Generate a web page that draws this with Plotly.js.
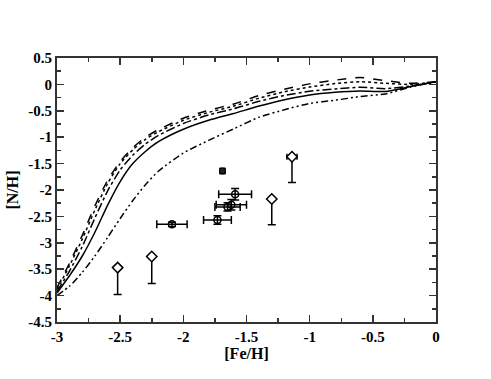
<!DOCTYPE html>
<html>
<head>
<meta charset="utf-8">
<script src="https://cdn.plot.ly/plotly-3.0.1.min.js"></script>
<style>
  html, body { margin: 0; padding: 0; background: #fff; }
  #chart { width: 491px; height: 379px; }
</style>
</head>
<body>
<div id="chart"></div>
<script>
// model curves, all sampled on the same [Fe/H] grid
const feGrid = [-3, -2.9, -2.8, -2.7, -2.6, -2.5, -2.4, -2.3, -2.2, -2.0, -1.8, -1.6, -1.4, -1.2, -1.0, -0.8, -0.6, -0.4, -0.2, 0];
const nhDashed = [-3.85, -3.38, -2.86, -2.30, -1.82, -1.46, -1.20, -1.00, -0.86, -0.64, -0.49, -0.37, -0.21, -0.09, 0.01, 0.08, 0.13, 0.07, 0.02, 0.05];
const nhDotted = [-3.88, -3.43, -2.93, -2.38, -1.88, -1.50, -1.24, -1.04, -0.90, -0.68, -0.53, -0.41, -0.26, -0.14, -0.05, 0.015, 0.05, 0.02, 0.0, 0.05];
const nhDashDot = [-3.92, -3.53, -3.07, -2.53, -2.02, -1.62, -1.34, -1.13, -0.97, -0.74, -0.58, -0.46, -0.32, -0.21, -0.13, -0.085, -0.055, -0.08, -0.03, 0.05];
const nhSolid = [-3.95, -3.62, -3.25, -2.80, -2.29, -1.84, -1.50, -1.27, -1.09, -0.85, -0.68, -0.55, -0.41, -0.29, -0.20, -0.15, -0.125, -0.135, -0.04, 0.05];
const nhDashDotDot = [-4.0, -3.82, -3.56, -3.25, -2.90, -2.54, -2.20, -1.90, -1.65, -1.30, -1.06, -0.84, -0.62, -0.48, -0.36, -0.30, -0.23, -0.18, -0.05, 0.05];

// upper limits style points (diamonds, lower error only)
const diaFe = [-2.52, -2.25, -1.30, -1.14];
const diaN = [-3.47, -3.26, -2.17, -1.37];
const diaErrDown = [0.51, 0.51, 0.49, 0.49];
const diaErrFe = [0, 0, 0, 0.04];

// measured points (circles with error bars)
const cirFe = [-1.59, -1.62, -1.65, -1.73, -2.09];
const cirN = [-2.08, -2.28, -2.32, -2.57, -2.65];
const cirErrFe = [0.13, 0.12, 0.10, 0.11, 0.12];
const cirErrN = [0.11, 0.10, 0.08, 0.08, 0.04];

// dark point
const darkFe = [-1.69];
const darkN = [-1.64];
const darkErrFe = [0.02];
const darkErrN = [0.05];

// tick labels
const xTickVals = [-3, -2.5, -2, -1.5, -1, -0.5, 0];
const xTickText = ['-3', '-2.5', '-2', '-1.5', '-1', '-0.5', '0'];
const yTickVals = [0.5, 0, -0.5, -1, -1.5, -2, -2.5, -3, -3.5, -4, -4.5];
const yTickText = ['0.5', '0', '-0.5', '-1', '-1.5', '-2', '-2.5', '-3', '-3.5', '-4', '-4.5'];

const curve = (y, dash) => ({
  x: feGrid, y: y, type: 'scatter', mode: 'lines',
  line: {color: '#000', width: 1.5, dash: dash, shape: 'spline', smoothing: 0.6},
  hoverinfo: 'skip'
});

const traces = [
  curve(nhDashed, 'dash'),
  curve(nhDotted, 'dot'),
  curve(nhDashDot, 'dashdot'),
  curve(nhSolid, 'solid'),
  curve(nhDashDotDot, '7px,3px,2px,3px,2px,3px'),
  {
    x: cirFe, y: cirN, type: 'scatter', mode: 'markers',
    marker: {symbol: 'circle-open', size: 7, color: '#000', line: {width: 1.5, color: '#000'}},
    error_x: {type: 'data', array: cirErrFe, color: '#000', thickness: 1.5, width: 4},
    error_y: {type: 'data', array: cirErrN, color: '#000', thickness: 1.5, width: 4}
  },
  {
    x: darkFe, y: darkN, type: 'scatter', mode: 'markers',
    marker: {symbol: 'circle', size: 6, color: '#222', line: {width: 1, color: '#000'}},
    error_x: {type: 'data', array: darkErrFe, color: '#000', thickness: 1.5, width: 3},
    error_y: {type: 'data', array: darkErrN, color: '#000', thickness: 1.5, width: 3}
  },
  {
    x: diaFe, y: diaN, type: 'scatter', mode: 'markers',
    marker: {symbol: 'diamond', size: 8, color: '#fff', line: {width: 1.5, color: '#000'}},
    error_x: {type: 'data', array: diaErrFe, color: '#000', thickness: 1.5, width: 3},
    error_y: {type: 'data', symmetric: false, array: [0, 0, 0, 0], arrayminus: diaErrDown, color: '#000', thickness: 1.5, width: 4}
  }
];

const serif = 'Liberation Serif';
const tickFont = {family: serif, size: 15, color: '#000', weight: 700};
const titleFont = {family: serif, size: 16, color: '#000', weight: 700};
const bold = arr => arr.map(t => '<b>' + t + '</b>');

const axisBase = {
  showgrid: false, zeroline: false,
  showline: true, linecolor: '#333', linewidth: 2, mirror: 'allticks',
  ticks: 'inside', ticklen: 7, tickwidth: 1.5, tickcolor: '#333',
  tickfont: tickFont, tickmode: 'array',
  minor: {ticks: 'inside', ticklen: 4, tickwidth: 1.5, tickcolor: '#333', dtick: 0.25, tick0: 0}
};

const layout = {
  width: 491, height: 379,
  margin: {l: 57, r: 55, t: 58, b: 57},
  paper_bgcolor: '#fff', plot_bgcolor: '#fff',
  showlegend: false,
  font: {family: serif, color: '#000'},
  xaxis: Object.assign({}, axisBase, {
    range: [-3, 0], tickvals: xTickVals, ticktext: bold(xTickText),
    title: {text: '<b>[Fe/H]</b>', font: titleFont, standoff: 4}
  }),
  yaxis: Object.assign({}, axisBase, {
    range: [-4.5, 0.5], tickvals: yTickVals, ticktext: bold(yTickText),
    title: {text: '<b>[N/H]</b>', font: titleFont, standoff: 6}
  })
};

Plotly.newPlot('chart', traces, layout, {staticPlot: true});
</script>
</body>
</html>
